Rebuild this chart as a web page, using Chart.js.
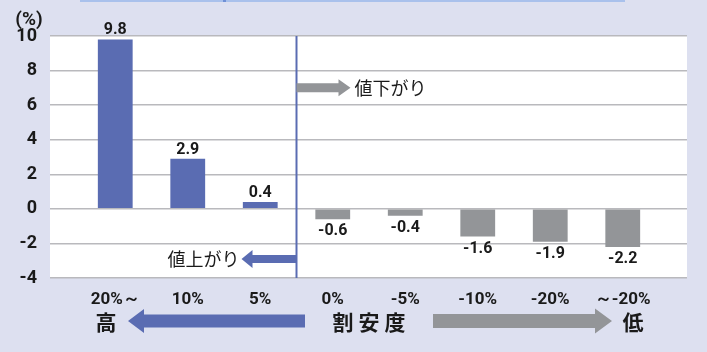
<!DOCTYPE html>
<html lang="ja">
<head>
<meta charset="UTF-8">
<title>割安度別の値動き</title>
<script src="https://cdn.jsdelivr.net/npm/chart.js"></script>
<style>
  html, body { margin: 0; padding: 0; background: #dde0f0; }
  #wrap { width: 707px; height: 352px; position: relative; }
</style>
</head>
<body>
<div id="wrap"><canvas id="chart" width="707" height="352"></canvas></div>
<script>
// data
const categories = ['20%～', '10%', '5%', '0%', '-5%', '-10%', '-20%', '～-20%'];
const values = [9.8, 2.9, 0.4, -0.6, -0.4, -1.6, -1.9, -2.2];
const yTicks = [-4, -2, 0, 2, 4, 6, 8, 10];

const BLUE = '#5a6cb2';
const GRAY = '#939598';
const TXT = '#1a1a1a';
const NUM_FONT = 'Roboto, "DejaVu Sans", sans-serif';
const JP_FONT = '"Noto Sans CJK JP", "Noto Sans", sans-serif';

function arrow(ctx, x0, x1, y, shaft, head, headLen, color) {
  // x0 = tail, x1 = tip
  const dir = x1 > x0 ? 1 : -1;
  const hb = x1 - dir * headLen;
  ctx.fillStyle = color;
  ctx.beginPath();
  ctx.moveTo(x0, y - shaft / 2);
  ctx.lineTo(hb, y - shaft / 2);
  ctx.lineTo(hb, y - head / 2);
  ctx.lineTo(x1, y);
  ctx.lineTo(hb, y + head / 2);
  ctx.lineTo(hb, y + shaft / 2);
  ctx.lineTo(x0, y + shaft / 2);
  ctx.closePath();
  ctx.fill();
}

const decor = {
  id: 'decor',
  beforeDraw(chart) {
    const { ctx, chartArea: a } = chart;
    ctx.save();
    // white plot panel (a bit wider than the category area)
    ctx.fillStyle = '#ffffff';
    ctx.fillRect(50, a.top, 637, a.bottom - a.top);
    // cut-off frame at the very top
    ctx.fillStyle = '#a9c1ec';
    ctx.fillRect(80, 0, 545, 2);
    ctx.fillStyle = '#6f90d6';
    ctx.fillRect(223, 0, 3, 2);
    ctx.restore();
  },
  afterDatasetsDraw(chart) {
    const { ctx, chartArea: a, scales: { x, y } } = chart;
    ctx.save();
    // data labels
    const meta = chart.getDatasetMeta(0);
    ctx.font = 'bold 16px ' + NUM_FONT;
    ctx.fillStyle = TXT;
    ctx.textAlign = 'center';
    ctx.textBaseline = 'middle';
    meta.data.forEach((bar, i) => {
      const v = values[i];
      const ty = v >= 0 ? bar.y - 9 : bar.y + 12;
      ctx.fillText(v.toFixed(1), bar.x, ty);
    });
    // divider between 5% and 0%
    const xd = (x.getPixelForValue(2) + x.getPixelForValue(3)) / 2;
    ctx.strokeStyle = BLUE;
    ctx.lineWidth = 2;
    ctx.beginPath();
    ctx.moveTo(xd, a.top);
    ctx.lineTo(xd, a.bottom);
    ctx.stroke();
    // small arrows
    const yDown = y.getPixelForValue(7);
    arrow(ctx, xd, xd + 54, yDown, 9, 17, 12, GRAY);
    const yUp = y.getPixelForValue(-2.9);
    arrow(ctx, xd, xd - 55, yUp, 8, 18, 11, BLUE);
    ctx.font = '18px ' + JP_FONT;
    ctx.fillStyle = TXT;
    ctx.textAlign = 'left';
    ctx.fillText('値下がり', xd + 58, yDown);
    ctx.textAlign = 'right';
    ctx.fillText('値上がり', xd - 57, yUp);
    // bottom legend row
    const yb = 321;
    ctx.font = 'bold 21px ' + JP_FONT;
    ctx.textAlign = 'center';
    ctx.fillText('高', 106, yb + 1);
    ctx.fillText('低', 633, yb + 1);
    ctx.fillText('割', 343, yb + 1);
    ctx.fillText('安', 369, yb + 1);
    ctx.fillText('度', 395, yb + 1);
    arrow(ctx, 305, 128, yb, 13, 24, 16, BLUE);
    arrow(ctx, 433, 612, yb, 14, 25, 17, GRAY);
    // unit
    ctx.fillStyle = TXT;
    ctx.font = 'bold 19px ' + NUM_FONT;
    ctx.fillText('(%)', 29, 20);
    ctx.restore();
  }
};

new Chart(document.getElementById('chart'), {
  type: 'bar',
  data: {
    labels: categories,
    datasets: [{
      data: values,
      backgroundColor: values.map(v => v >= 0 ? BLUE : GRAY),
      barPercentage: 0.48,
      categoryPercentage: 1
    }]
  },
  options: {
    responsive: false,
    animation: false,
    layout: { padding: { top: 36, left: 0, right: 0, bottom: 0 } },
    plugins: { legend: { display: false }, tooltip: { enabled: false } },
    scales: {
      x: {
        grid: { display: false },
        border: { display: false },
        ticks: { color: TXT, padding: 4, font: { family: NUM_FONT, size: 17, weight: 'bold' } },
        afterFit(s) { s.height = 74; }
      },
      y: {
        min: -4, max: 10,
        afterBuildTicks(s) { s.ticks = yTicks.map(v => ({ value: v })); },
        grid: { color: '#b9b9bd', lineWidth: 1.5, tickLength: 29, drawTicks: true },
        border: { display: false },
        ticks: { color: TXT, padding: 13, font: { family: NUM_FONT, size: 18, weight: 'bold' } },
        afterFit(s) { s.width = 79; }
      },
      y2: {
        position: 'right',
        min: -4, max: 10,
        afterBuildTicks(s) { s.ticks = yTicks.map(v => ({ value: v })); },
        grid: { color: '#b9b9bd', lineWidth: 1.5, tickLength: 28, drawOnChartArea: false },
        border: { display: false },
        ticks: { callback: () => '' },
        afterFit(s) { s.width = 48; }
      }
    }
  },
  plugins: [decor]
});
</script>
</body>
</html>
